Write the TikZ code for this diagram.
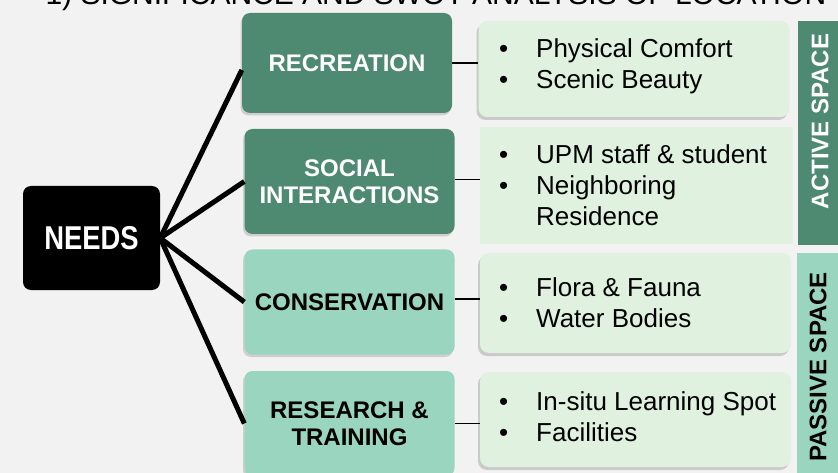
\documentclass[tikz,border=0pt]{standalone}
\usepackage{fontspec}
\setmainfont{Liberation Sans}
\usetikzlibrary{shadows}
\definecolor{darkgreen}{HTML}{4E8A72}
\definecolor{lightteal}{HTML}{9AD5C0}
\definecolor{palegreen}{HTML}{E0F2DF}
\definecolor{bggray}{HTML}{F2F2F2}
\begin{document}
\begin{tikzpicture}[x=1pt,y=-1pt,
    needbox/.style={fill=#1,rounded corners=8pt,minimum width=210pt,minimum height=105pt,
      inner sep=0pt,align=center,font=\fontsize{24}{27}\selectfont\bfseries,
      drop shadow={shadow xshift=-1.5pt,shadow yshift=-2.5pt,opacity=.3}},
    listplain/.style={fill=palegreen,minimum width=311pt,inner sep=0pt},
    listbox/.style={listplain,rounded corners=9pt,
      drop shadow={shadow xshift=-2pt,shadow yshift=-3pt,opacity=.35}},
    listtext/.style={anchor=west,inner sep=0pt,font=\fontsize{26}{31}\selectfont},
    spacebar/.style={fill=#1,inner sep=0pt,minimum width=43pt},
    spacetext/.style={rotate=90,font=\fontsize{24}{24}\selectfont\bfseries},
    thick link/.style={line width=5pt},
    thin link/.style={line width=1.6pt}]
  \clip (0,0) rectangle (838,473);
  \fill [bggray] (0,0) rectangle (838,473);
  \node [anchor=base west,font=\fontsize{30}{30}\selectfont] (title) at (42,5)
    {1) SIGNIFICANCE AND SWOT ANALYSIS OF LOCATION};

  \node [fill=black,rounded corners=8pt,minimum width=137pt,minimum height=104pt,inner sep=0pt,
    text=white,font=\fontsize{33}{33}\selectfont\bfseries] (needs) at (91.5,238)
    {\scalebox{.83}[1]{NEEDS}};

  \node [needbox=darkgreen,text=white,minimum height=100pt] (rec) at (347,63) {RECREATION};
  \node [needbox=darkgreen,text=white] (social) at (349.5,181.5) {SOCIAL\\INTERACTIONS};
  \node [needbox=lightteal] (cons) at (349.5,302) {CONSERVATION};
  \node [needbox=lightteal] (research) at (349.5,423.5) {RESEARCH \&\\TRAINING};

  \node [listbox,minimum height=96pt] (recbox) at (634,69) {};
  \node [listplain,minimum width=313pt,minimum height=117pt] (socialbox) at (636.5,185.5) {};
  \node [listbox,minimum height=100pt] (consbox) at (635.5,303) {};
  \node [listbox,minimum height=95pt] (researchbox) at (635.5,419.5) {};

  \node [listtext] (rectext) at (499,67) {\begin{tabular}{@{}p{37pt}@{}l@{}}
    \textbullet & Physical Comfort\\ \textbullet & Scenic Beauty\end{tabular}};
  \node [listtext] (socialtext) at (499,188.5) {\begin{tabular}{@{}p{37pt}@{}l@{}}
    \textbullet & UPM staff \& student\\ \textbullet & Neighboring\\ & Residence\end{tabular}};
  \node [listtext] (constext) at (499,305.5) {\begin{tabular}{@{}p{37pt}@{}l@{}}
    \textbullet & Flora \& Fauna\\ \textbullet & Water Bodies\end{tabular}};
  \node [listtext] (researchtext) at (499,419.5) {\begin{tabular}{@{}p{37pt}@{}l@{}}
    \textbullet & In-situ Learning Spot\\ \textbullet & Facilities\end{tabular}};

  \node [spacebar=darkgreen,minimum height=224pt] (activebar) at (819.5,133) {};
  \node [spacebar=lightteal,minimum height=223pt] (passivebar) at (818.5,364.5) {};
  \node [spacetext,text=white] (activetext) at (820,121.5) {ACTIVE SPACE};
  \node [spacetext] (passivetext) at (818,367) {PASSIVE SPACE};

  \draw [thick link] (needs.east) -- ([yshift=-7pt]rec.west);
  \draw [thick link] (needs.east) -- (social.west);
  \draw [thick link] (needs.east) -- (cons.west);
  \draw [thick link] (needs.east) -- (research.west);

  \draw [thin link] (rec.east) -- (rec.east -| recbox.west);
  \draw [thin link] ([yshift=2pt]social.east) -- ([yshift=2pt]social.east -| socialbox.west);
  \draw [thin link] ([yshift=3pt]cons.east) -- ([yshift=3pt]cons.east -| consbox.west);
  \draw [thin link] (research.east) -- (research.east -| researchbox.west);
\end{tikzpicture}
\end{document}
